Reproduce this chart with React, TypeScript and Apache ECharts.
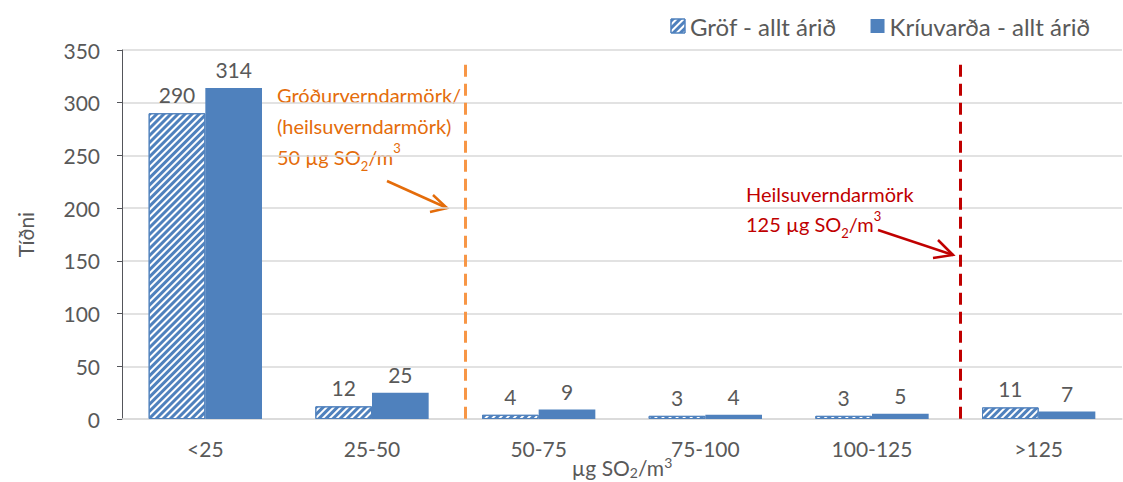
import React, { useEffect, useRef } from "react";
import * as echarts from "echarts";

const categories = ["<25", "25-50", "50-75", "75-100", "100-125", ">125"];
const grofValues = [290, 12, 4, 3, 3, 11];
const kriuvardaValues = [314, 25, 9, 4, 5, 7];
const seriesNames = ["Gröf - allt árið", "Kríuvarða - allt árið"];
const limitPositions = [2.06, 5.03]; // positions on a 0..6 category scale
const limitTop = 336;

const FONT = "Lato, 'Open Sans', sans-serif";
const GREY = "#595959";
const BLUE = "#4F81BD";
const ORANGE_TXT = "#E46C0A";
const ORANGE_LINE = "#F79646";
const RED = "#C00000";
const FS = 21;
const FS_NOTE = 20;

// rich styles for sub/superscripts; key = "color" (axis text) or "fill" (graphic text)
const richSubSup = (color: string, size: number, lineH: number, key: string) => ({
  n: { fontSize: size, [key]: color, fontFamily: FONT, lineHeight: lineH },
  sub: { fontSize: Math.round(size * 0.65), [key]: color, fontFamily: FONT, verticalAlign: "bottom", lineHeight: lineH - 10 },
  sup: { fontSize: Math.round(size * 0.65), [key]: color, fontFamily: FONT, verticalAlign: "top", lineHeight: lineH - 8 },
});

export default function App() {
  const ref = useRef<HTMLDivElement>(null);
  useEffect(() => {
    if (!ref.current) return;
    const chart = echarts.init(ref.current, null, { renderer: "svg" });
    const decal = {
      symbol: "rect",
      color: BLUE,
      dashArrayX: [1, 0],
      dashArrayY: [2.5, 2],
      rotation: -Math.PI / 4,
      symbolSize: 1,
    };
    chart.setOption({
      animation: false,
      textStyle: { fontFamily: FONT },
      legend: {
        top: 9,
        right: 28,
        itemWidth: 14,
        itemHeight: 14,
        itemGap: 34,
        textStyle: { fontSize: 24, color: GREY, fontFamily: FONT },
        data: [
          { name: seriesNames[0], icon: "rect", itemStyle: { color: "#fff", decal, borderColor: BLUE, borderWidth: 1 } },
          { name: seriesNames[1], icon: "rect" },
        ],
      },
      grid: { left: 122, right: 1, top: 50, bottom: 63, outerBoundsMode: "none" },
      xAxis: [
        {
          type: "category",
          data: categories,
          axisTick: { show: false },
          axisLine: { lineStyle: { color: "#D9D9D9", width: 1.5 } },
          axisLabel: { color: GREY, fontSize: FS, margin: 19, fontFamily: FONT },
          name: "{n|µg SO}{sub|2}{n|/m}{sup|3}",
          nameLocation: "middle",
          nameGap: 36,
          nameMoveOverlap: false,
          nameTextStyle: { rich: richSubSup(GREY, FS, 24, "color") },
        },
        { type: "value", min: 0, max: 6, show: false },
      ],
      yAxis: {
        type: "value",
        min: 0,
        max: 350,
        interval: 50,
        axisLabel: { color: GREY, fontSize: FS, margin: 22, fontFamily: FONT },
        splitLine: { lineStyle: { color: "#D9D9D9", width: 1.5 } },
        name: "Tíðni",
        nameLocation: "middle",
        nameRotate: 90,
        nameGap: 86,
        nameMoveOverlap: false,
        nameTextStyle: { color: GREY, fontSize: FS, fontFamily: FONT },
      },
      series: [
        {
          name: seriesNames[0],
          type: "bar",
          data: grofValues,
          barGap: "0%",
          barCategoryGap: "32%",
          itemStyle: { color: "#fff", borderColor: BLUE, borderWidth: 1, decal },
          label: { show: true, position: "top", distance: 8, color: GREY, fontSize: FS, fontFamily: FONT },
        },
        {
          name: seriesNames[1],
          type: "bar",
          data: kriuvardaValues,
          itemStyle: { color: BLUE },
          label: { show: true, position: "top", distance: 8, color: GREY, fontSize: FS, fontFamily: FONT },
        },
        {
          type: "line",
          xAxisIndex: 1,
          yAxisIndex: 0,
          data: [],
          markLine: {
            silent: true,
            symbol: ["none", "none"],
            label: { show: false },
            data: [
              [
                { coord: [limitPositions[0], limitTop], lineStyle: { color: ORANGE_LINE, width: 3, type: [12, 7] } },
                { coord: [limitPositions[0], 0] },
              ],
              [
                { coord: [limitPositions[1], limitTop], lineStyle: { color: RED, width: 3, type: [12, 7] } },
                { coord: [limitPositions[1], 0] },
              ],
            ],
          },
        },
      ],
      graphic: [
        {
          type: "text",
          left: 277,
          top: 85,
          style: {
            text: "{n|Gróðurverndarmörk/}\n{n|(heilsuverndarmörk)}\n{n|50 µg SO}{sub|2}{n|/m}{sup|3}",
            rich: richSubSup(ORANGE_TXT, FS_NOTE, 31, "fill"),
          },
        },
        {
          type: "text",
          left: 746,
          top: 184,
          style: {
            text: "{n|Heilsuverndarmörk}\n{n|125 µg SO}{sub|2}{n|/m}{sup|3}",
            rich: richSubSup(RED, FS_NOTE, 30, "fill"),
          },
        },
        { type: "line", shape: { x1: 387, y1: 181, x2: 447, y2: 208 }, style: { stroke: ORANGE_TXT, lineWidth: 2.5 } },
        { type: "polyline", shape: { points: [[433, 195], [447, 208], [430, 212]] }, style: { stroke: ORANGE_TXT, lineWidth: 2.5, fill: null } },
        { type: "line", shape: { x1: 878, y1: 230, x2: 953, y2: 255 }, style: { stroke: RED, lineWidth: 2.5 } },
        { type: "polyline", shape: { points: [[938, 240], [953, 255], [933, 258]] }, style: { stroke: RED, lineWidth: 2.5, fill: null } },
      ],
    });
    return () => chart.dispose();
  }, []);
  return <div ref={ref} style={{ position: "fixed", left: 0, top: 0, width: 1123, height: 482, background: "#fff" }} />;
}
